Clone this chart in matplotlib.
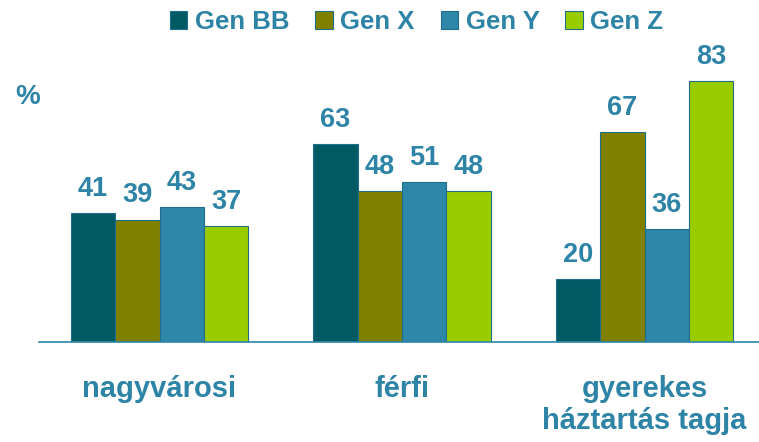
import matplotlib
matplotlib.use("Agg")
import numpy as np
import matplotlib.pyplot as plt
from matplotlib.patches import Patch
from matplotlib import font_manager

categories = ["nagyvárosi", "férfi", "gyerekes\nháztartás tagja"]
series = ["Gen BB", "Gen X", "Gen Y", "Gen Z"]
gen_bb = [41, 63, 20]
gen_x = [39, 48, 67]
gen_y = [43, 51, 36]
gen_z = [37, 48, 83]

colors = ["#005a64", "#808000", "#2e86a8", "#9acd00"]
text_color = "#2e84a6"

names = {f.name for f in font_manager.fontManager.ttflist}
fam = "Liberation Sans Narrow" if "Liberation Sans Narrow" in names else "Liberation Sans"
plt.rcParams["font.family"] = [fam, "DejaVu Sans"]
plt.rcParams["font.weight"] = "bold"

fig = plt.figure(figsize=(7.59, 4.42), dpi=100)
ax = fig.add_axes([39 / 759, 100 / 442, 720 / 759, 292 / 442])

x = np.arange(len(categories))
width = 0.183
values = [gen_bb, gen_x, gen_y, gen_z]
for i, (vals, color) in enumerate(zip(values, colors)):
    pos = x + (i - 1.5) * width
    bars = ax.bar(pos, vals, width, color=color, edgecolor="#1f6f8b", linewidth=0.8)
    for b, v in zip(bars, vals):
        ax.annotate(str(v), (b.get_x() + b.get_width() / 2, v),
                    xytext=(0, 8), textcoords="offset points",
                    ha="center", va="bottom", fontsize=19.5,
                    fontweight="bold", color=text_color)

ax.set_xlim(-0.497, 2.472)
ax.set_ylim(0, 93)
ax.set_xticks(x)
ax.set_xticklabels(categories, fontsize=21, fontweight="bold", color=text_color,
                   linespacing=1.15)
ax.tick_params(axis="x", length=0, pad=24)
ax.set_yticks([])
for s in ["top", "right", "left"]:
    ax.spines[s].set_visible(False)
ax.spines["bottom"].set_color("#2e86a8")
ax.spines["bottom"].set_linewidth(1.2)

fig.text(15 / 759, 1 - 97 / 442, "%", fontsize=20, fontweight="bold",
         color=text_color, va="center", ha="left")

handles = [Patch(facecolor=c, edgecolor="#1f6f8b", linewidth=0.8) for c in colors]
fig.legend(handles, series, loc="center", bbox_to_anchor=(0.549, 1 - 22 / 442),
           ncol=4, frameon=False, handlelength=0.68, handleheight=0.68,
           handletextpad=0.3, columnspacing=1.0,
           labelcolor=text_color, prop={"weight": "bold", "size": 18.5})

fig.savefig("out.png", dpi=100)
